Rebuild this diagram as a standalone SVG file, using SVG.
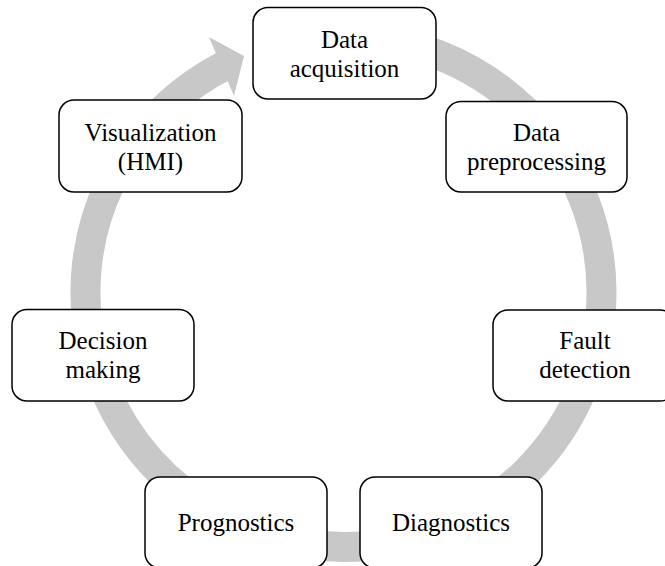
<svg xmlns="http://www.w3.org/2000/svg" width="665" height="566" viewBox="0 0 665 566">
  <style>
    .ring { fill: none; stroke: #c8c8c8; stroke-width: 30; }
    .head { fill: #c8c8c8; stroke: none; }
    .box { fill: #ffffff; stroke: #000000; stroke-width: 1.5; }
    .lbl { font-family: "Liberation Serif", "Times New Roman", serif; font-size: 25px; fill: #000000; text-anchor: middle; }
  </style>
  <rect width="665" height="566" fill="#ffffff"/>
  <g id="connectors">
    <path class="ring" d="M 343.5 37 A 258 255 0 0 1 343.5 547 A 258 255 0 0 1 230.4 62.8"/>
    <polygon class="head" points="209,37 244,56 234,96"/>
  </g>
  <g id="data-acquisition">
    <rect class="box" x="253" y="7.5" width="183" height="91.5" rx="15"/>
    <text class="lbl" x="344.5" y="47.5">Data</text>
    <text class="lbl" x="344.5" y="76.5">acquisition</text>
  </g>
  <g id="data-preprocessing">
    <rect class="box" x="446" y="101.5" width="181" height="90.5" rx="15"/>
    <text class="lbl" x="536.5" y="140.5">Data</text>
    <text class="lbl" x="536.5" y="169.5">preprocessing</text>
  </g>
  <g id="fault-detection">
    <rect class="box" x="493" y="310" width="182" height="91" rx="15"/>
    <text class="lbl" x="585" y="349">Fault</text>
    <text class="lbl" x="585" y="378">detection</text>
  </g>
  <g id="diagnostics">
    <rect class="box" x="360" y="477" width="182" height="91" rx="15"/>
    <text class="lbl" x="451" y="530.5">Diagnostics</text>
  </g>
  <g id="prognostics">
    <rect class="box" x="145" y="477" width="182" height="91" rx="15"/>
    <text class="lbl" x="236" y="530.5">Prognostics</text>
  </g>
  <g id="decision-making">
    <rect class="box" x="12" y="309.5" width="182" height="91.5" rx="15"/>
    <text class="lbl" x="103" y="349">Decision</text>
    <text class="lbl" x="103" y="378">making</text>
  </g>
  <g id="visualization">
    <rect class="box" x="59" y="100" width="183" height="92" rx="15"/>
    <text class="lbl" x="150.5" y="140.5">Visualization</text>
    <text class="lbl" x="150.5" y="169.5">(HMI)</text>
  </g>
</svg>
